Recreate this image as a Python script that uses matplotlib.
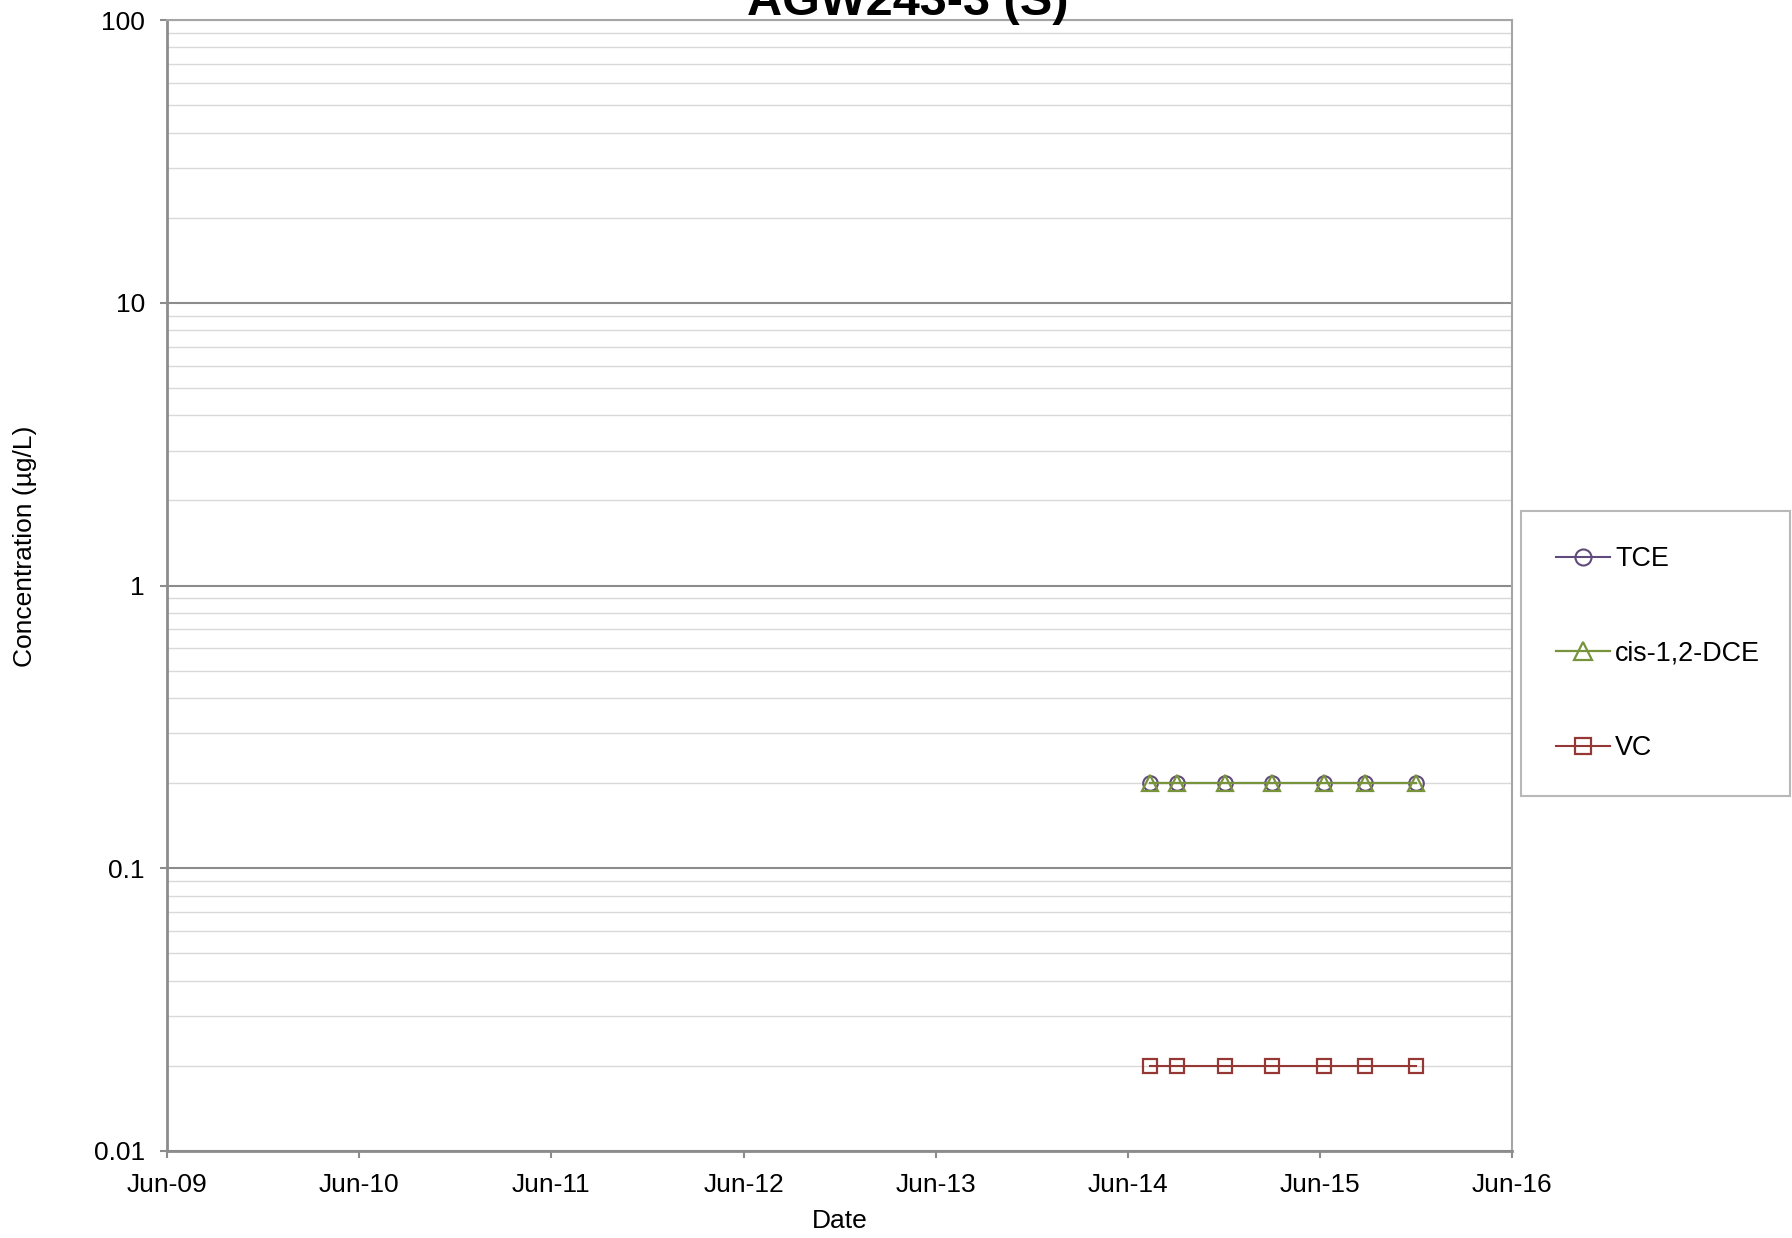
import numpy as np
import matplotlib
matplotlib.use('Agg')
import matplotlib.pyplot as plt
from matplotlib.ticker import LogLocator, FixedFormatter, FixedLocator

plt.rcParams['font.family'] = ['Liberation Sans', 'DejaVu Sans']

# sample dates and concentrations (ug/L)
dates = np.array(['2014-07-14', '2014-09-03', '2014-12-03', '2015-03-03',
                  '2015-06-10', '2015-08-26', '2015-12-01'], dtype='datetime64[D]')
tce = [0.2, 0.2, 0.2, 0.2, 0.2, 0.2, 0.2]
dce = [0.2, 0.2, 0.2, 0.2, 0.2, 0.2, 0.2]
vc = [0.02, 0.02, 0.02, 0.02, 0.02, 0.02, 0.02]

xticks = np.array(['2009-06-01', '2010-06-01', '2011-06-01', '2012-06-01',
                   '2013-06-01', '2014-06-01', '2015-06-01', '2016-06-01'],
                  dtype='datetime64[D]')
xlabels = ['Jun-09', 'Jun-10', 'Jun-11', 'Jun-12', 'Jun-13', 'Jun-14', 'Jun-15', 'Jun-16']
yticks = [0.01, 0.1, 1, 10, 100]
ylabels = ['0.01', '0.1', '1', '10', '100']

fig = plt.figure(figsize=(17.92, 12.38), dpi=100)
ax = fig.add_axes([0.0932, 0.0703, 0.7506, 0.9135])

ax.plot(dates, tce, '-o', color='#604A7B', mfc='none', mec='#604A7B', ms=10.5, mew=1.5, lw=1.5, label='TCE')
ax.plot(dates, dce, '-^', color='#77933C', mfc='none', mec='#77933C', ms=12, mew=1.6, lw=1.6, label='cis-1,2-DCE')
ax.plot(dates, vc, '-s', color='#953735', mfc='none', mec='#953735', ms=10.5, mew=1.6, lw=1.5, label='VC')

ax.set_yscale('log')
ax.set_ylim(0.01, 100)
ax.set_xlim(xticks[0], xticks[-1])
ax.set_xticks(xticks)
ax.set_xticklabels(xlabels)
ax.yaxis.set_major_locator(FixedLocator(yticks))
ax.yaxis.set_major_formatter(FixedFormatter(ylabels))
ax.yaxis.set_minor_locator(LogLocator(base=10, subs=np.arange(2, 10)))
ax.yaxis.set_minor_formatter(plt.NullFormatter())

ax.grid(True, which='major', axis='y', color='#8c8c8c', lw=1.5)
ax.grid(True, which='minor', axis='y', color='#d9d9d9', lw=1.0)
ax.set_axisbelow(True)

for s in ax.spines.values():
    s.set_color('#a6a6a6')
    s.set_linewidth(1.5)
ax.spines['left'].set_color('#8c8c8c')
ax.spines['bottom'].set_color('#8c8c8c')
ax.spines['left'].set_linewidth(2)
ax.spines['bottom'].set_linewidth(2)

ax.tick_params(axis='both', which='major', direction='out', length=5, width=1.5,
               color='#8c8c8c', labelsize=19)
ax.tick_params(axis='y', which='minor', length=0)
ax.tick_params(axis='y', pad=11)
ax.tick_params(axis='x', pad=11)

fig.text(0.5067, 0.9879, 'AGW243-3 (S)', ha='center', va='baseline',
         fontsize=35, fontweight='bold')
fig.text(0.0140, 0.559, 'Concentration (µg/L)', rotation=90, ha='center', va='center', fontsize=19)
fig.text(0.4688, 0.0137, 'Date', ha='center', va='center', fontsize=19)

leg = fig.legend(loc='upper left',
                 bbox_to_anchor=(1521 / 1792, 1 - 793 / 1238, 269 / 1792, 282 / 1238),
                 mode='expand', borderaxespad=0, frameon=True, fancybox=False, fontsize=19.4,
                 handlelength=2.0, handletextpad=0.2, labelspacing=2.55, borderpad=1.3,
                 markerscale=1.1)
leg.get_frame().set_edgecolor('#a6a6a6')
leg.get_frame().set_linewidth(1.5)

fig.savefig('out.png', dpi=100)
